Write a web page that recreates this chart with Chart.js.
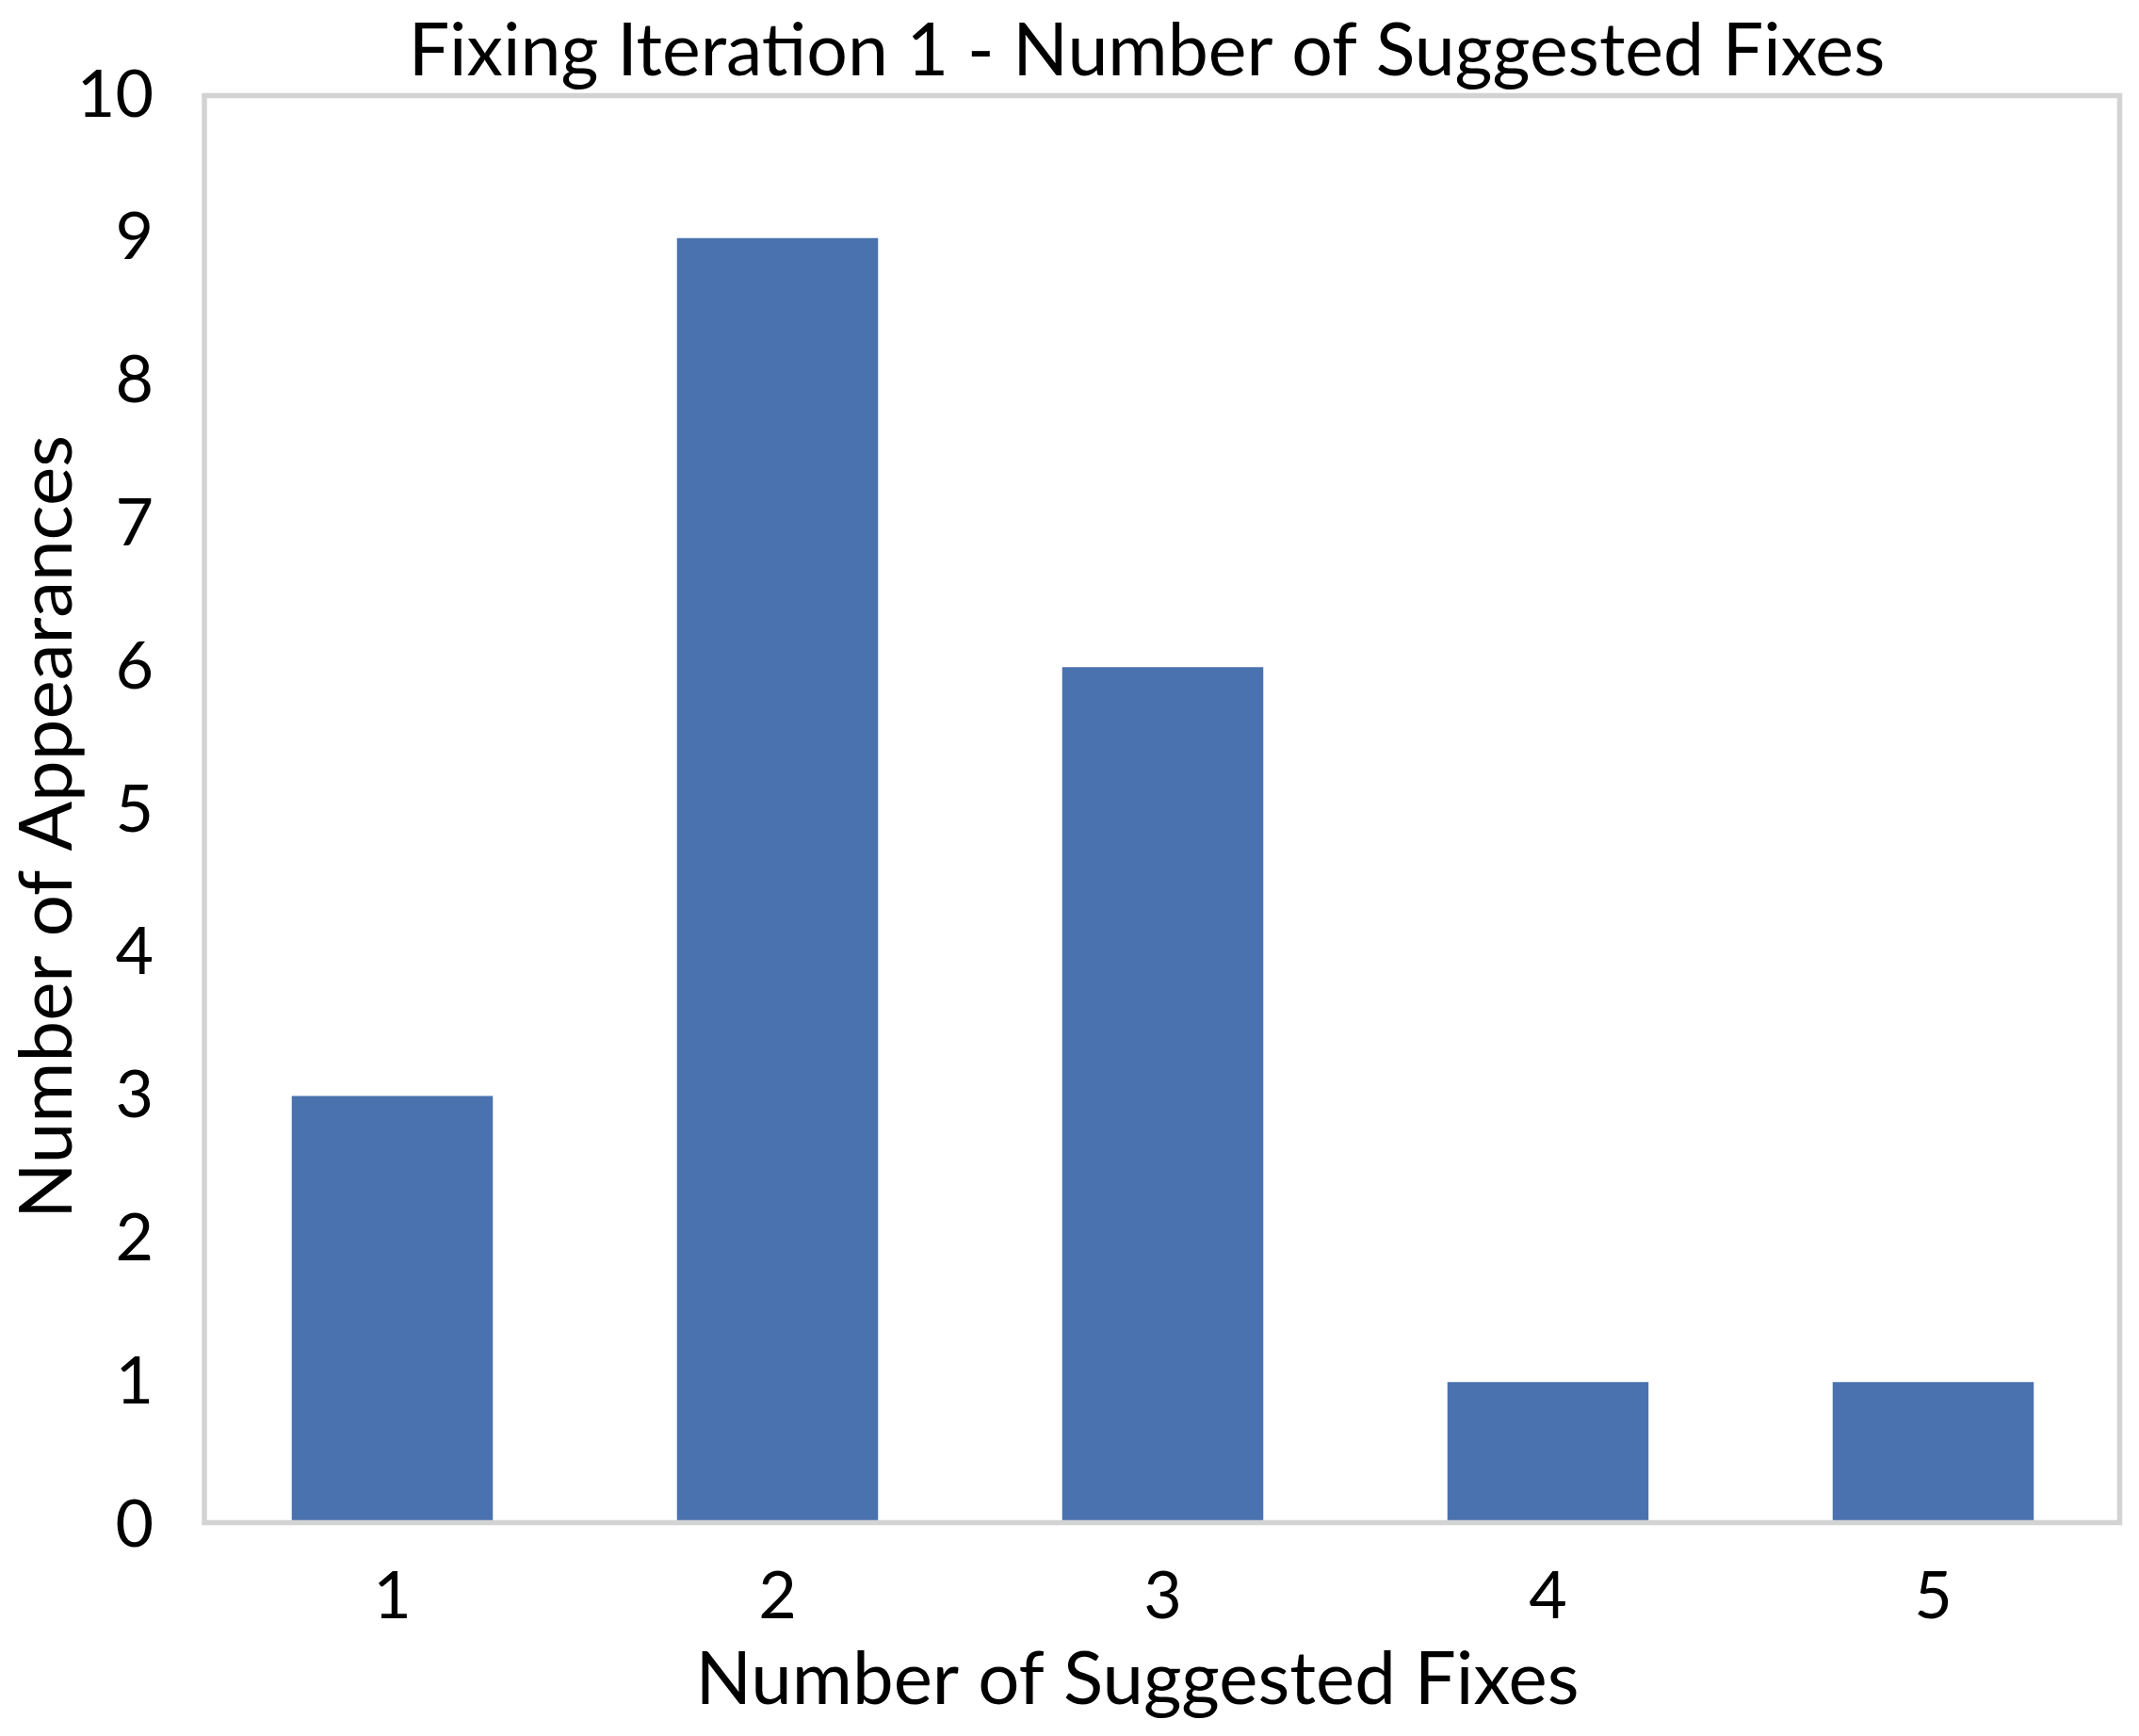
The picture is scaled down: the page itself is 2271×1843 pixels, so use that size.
<!DOCTYPE html>
<html>
<head>
<meta charset="utf-8">
<script src="https://cdn.jsdelivr.net/npm/chart.js@4"></script>
<style>
  html, body { margin: 0; padding: 0; background: #ffffff; }
  #wrap { width: 2271px; height: 1843px; }
</style>
</head>
<body>
<div id="wrap"><canvas id="fixesCanvas"></canvas></div>
<script>
// chart values
var categories = ["1", "2", "3", "4", "5"];
var appearances = [3, 9, 6, 1, 1];
var yTicks = [0, 1, 2, 3, 4, 5, 6, 7, 8, 9, 10];

var chartTitle = "Fixing Iteration 1 - Number of Suggested Fixes";
var xTitle = "Number of Suggested Fixes";
var yTitle = "Number of Appearances";

var fontFamily = "Lato, 'Open Sans', sans-serif";

// grey outline round the plot area, plus the titles placed off its centre
// the way the original spreadsheet chart has them
var framePlugin = {
    id: "frame",
    afterDatasetsDraw: function (chart) {
        var a = chart.chartArea;
        var ctx = chart.ctx;
        var midX = (a.left + a.right) / 2;
        var midY = (a.top + a.bottom) / 2;
        ctx.save();
        ctx.strokeStyle = "#d3d3d3";
        ctx.lineWidth = 5.5;
        ctx.strokeRect(a.left + 5, a.top + 0.5, (a.right - 6.5) - (a.left + 5), (a.bottom - 2.5) - (a.top + 0.5));

        ctx.fillStyle = "#000000";
        ctx.textAlign = "center";

        ctx.font = "77px " + fontFamily;
        ctx.textBaseline = "alphabetic";
        ctx.fillText(chartTitle, midX - 17, a.top - 21);

        ctx.font = "78px " + fontFamily;
        ctx.textBaseline = "middle";
        ctx.fillText(xTitle, midX - 27, chart.height - 59);

        ctx.translate(51, midY + 18);
        ctx.rotate(-Math.PI / 2);
        ctx.fillText(yTitle, 0, 0);
        ctx.restore();
    }
};

var ctx = document.getElementById("fixesCanvas").getContext("2d");

var myChart = new Chart(ctx, {
    type: "bar",
    data: {
        labels: categories,
        datasets: [
            {
                label: yTitle,
                data: appearances,
                backgroundColor: "#4a72ae",
                borderWidth: 0,
                categoryPercentage: 1.0,
                barPercentage: 0.522
            }
        ]
    },
    options: {
        responsive: true,
        maintainAspectRatio: false,
        animation: false,
        layout: { padding: { left: 0, right: 14, top: 101, bottom: 0 } },
        plugins: {
            legend: { display: false },
            tooltip: { enabled: false },
            title: { display: false }
        },
        scales: {
            x: {
                grid: { display: false, drawTicks: false },
                border: { display: false },
                ticks: {
                    color: "#000000",
                    padding: 34,
                    font: { family: fontFamily, size: 70 }
                },
                afterFit: function (scale) { scale.height = 224; }
            },
            y: {
                min: 0,
                max: 10,
                grid: { display: false, drawTicks: false },
                border: { display: false },
                afterBuildTicks: function (scale) {
                    scale.ticks = yTicks.map(function (v) { return { value: v }; });
                },
                ticks: {
                    color: "#000000",
                    padding: 49,
                    font: { family: fontFamily, size: 70 }
                },
                afterFit: function (scale) { scale.width = 212; }
            }
        }
    },
    plugins: [framePlugin]
});
</script>
</body>
</html>
